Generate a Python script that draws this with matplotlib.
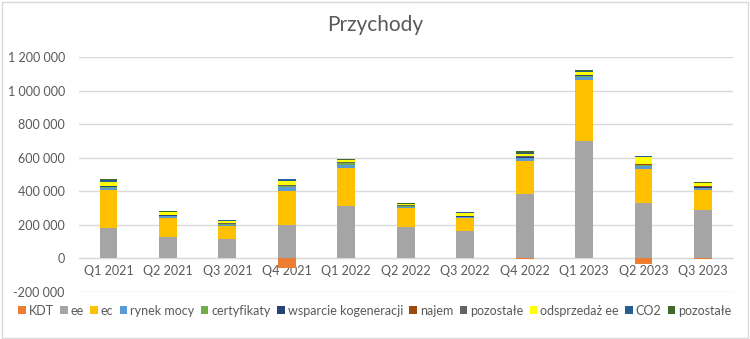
import numpy as np
import matplotlib
matplotlib.use("Agg")
import matplotlib.pyplot as plt
from matplotlib.patches import Rectangle
from matplotlib.ticker import FuncFormatter

TXT = "#595959"; GRID = "#d9d9d9"

quarters = ["Q1 2021", "Q2 2021", "Q3 2021", "Q4 2021", "Q1 2022", "Q2 2022",
            "Q3 2022", "Q4 2022", "Q1 2023", "Q2 2023", "Q3 2023"]

# values in thousands
kdt = [0, 0, 0, -60, 0, 0, 0, -5, 0, -35, -3]
ee = [178, 129, 117, 196, 311, 186, 163, 381, 698, 327, 286]
ec = [228, 109, 73, 205, 225, 112, 75, 198, 362, 203, 119]
rynek_mocy = [16, 13, 10, 24, 22, 8, 8, 16, 22, 18, 14]
certyfikaty = [3, 3, 3, 3, 8, 3, 3, 3, 3, 8, 2]
wsparcie = [3, 3, 2, 3, 3, 3, 3, 6, 6, 3, 3]
najem = [1, 1, 1, 1, 1, 1, 1, 1, 1, 1, 4]
pozostale = [2, 2, 2, 2, 2, 2, 2, 2, 2, 2, 2]
odsprzedaz = [26, 15, 16, 28, 12, 6, 18, 14, 18, 44, 18]
co2 = [12, 4, 4, 10, 3, 3, 3, 8, 6, 2, 3]
pozostale2 = [3, 3, 2, 3, 4, 3, 3, 8, 5, 3, 2]

series = [
    ("KDT", kdt, "#ed7d31"),
    ("ee", ee, "#a5a5a5"),
    ("ec", ec, "#ffc000"),
    ("rynek mocy", rynek_mocy, "#5b9bd5"),
    ("certyfikaty", certyfikaty, "#70ad47"),
    ("wsparcie kogeneracji", wsparcie, "#264478"),
    ("najem", najem, "#9e480e"),
    ("pozostałe", pozostale, "#636363"),
    ("odsprzedaż ee", odsprzedaz, "#ffff00"),
    ("CO2", co2, "#255e91"),
    ("pozostałe", pozostale2, "#43682b"),
]

plt.rcParams["font.family"] = ["Lato", "DejaVu Sans"]

fig = plt.figure(figsize=(7.5, 3.39), dpi=100)
fig.patch.set_facecolor("white")
ax = fig.add_axes([0.105, 0.139, 0.872, 0.693])

x = np.arange(len(quarters))
pos = np.zeros(len(quarters)); neg = np.zeros(len(quarters))
for name, vals, col in series:
    v = np.array(vals, dtype=float) * 1000
    bottom = np.where(v >= 0, pos, neg)
    ax.bar(x, v, bottom=bottom, width=0.3, color=col, label=name, zorder=3)
    pos += np.where(v >= 0, v, 0); neg += np.where(v < 0, v, 0)

ax.set_xlim(-0.5, len(quarters) - 0.5)
ax.set_ylim(-200000, 1200000)
ax.set_yticks(np.arange(-200000, 1200001, 200000))
ax.yaxis.set_major_formatter(FuncFormatter(lambda v, p: f"{int(v):,}".replace(",", " ")))
ax.grid(axis="y", color=GRID, lw=1, zorder=0)
for s in ("top", "right", "left"):
    ax.spines[s].set_visible(False)
ax.spines["bottom"].set_position(("data", 0))
ax.spines["bottom"].set_color(GRID)
ax.set_xticks(x)
ax.set_xticklabels(quarters)
ax.tick_params(axis="both", length=0, labelsize=9, colors=TXT)
ax.tick_params(axis="x", pad=5)
ax.tick_params(axis="y", pad=10)

fig.text(0.5, 0.925, "Przychody", ha="center", va="center", fontsize=15, color=TXT)

leg = fig.legend(loc="center", bbox_to_anchor=(0.5, 0.083), ncol=11, frameon=False,
                 fontsize=9, handlelength=0.6, handleheight=0.6, handletextpad=0.25,
                 columnspacing=0.5, labelcolor=TXT, borderpad=0.1)

fig.add_artist(Rectangle((0.002, 0.003), 0.995, 0.992, transform=fig.transFigure,
                         fill=False, edgecolor=GRID, lw=1))
fig.savefig("out.png", dpi=100)
